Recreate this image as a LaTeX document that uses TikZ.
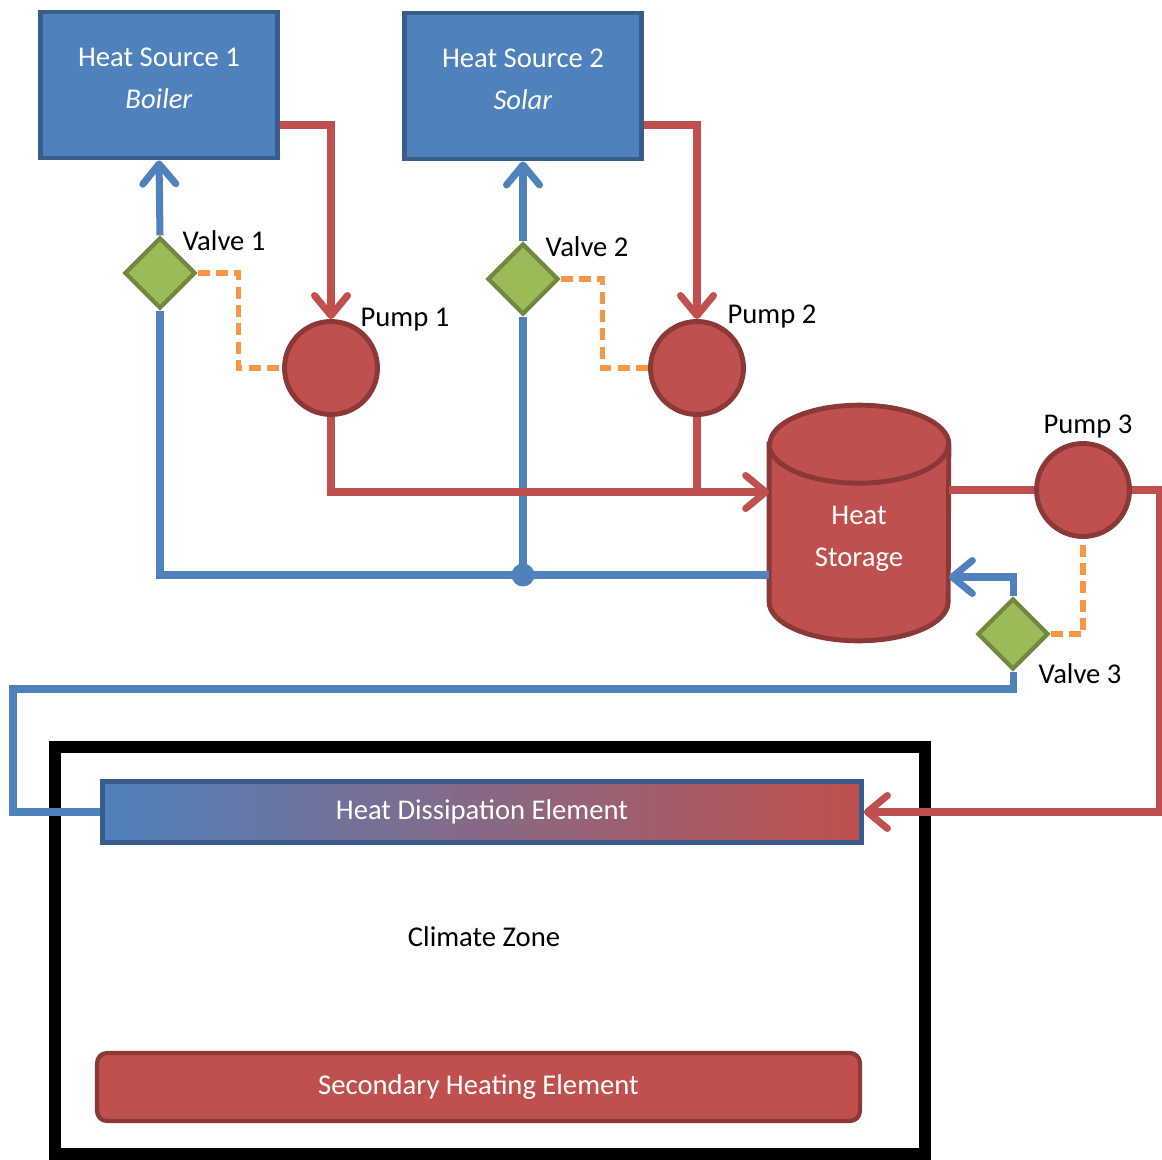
\documentclass[tikz,border=0pt]{standalone}
\usepackage{fontspec}
\setmainfont{Carlito}
\usepackage{xcolor}
\usetikzlibrary{arrows.meta, positioning, shapes.geometric}
\definecolor{srcblue}{HTML}{4F81BD}
\definecolor{srcedge}{HTML}{385D8A}
\definecolor{pumpred}{HTML}{C0504D}
\definecolor{pumpedge}{HTML}{8C3836}
\definecolor{valvegreen}{HTML}{9BBB59}
\definecolor{valveedge}{HTML}{71893F}
\definecolor{ctrlorange}{HTML}{F79646}

\begin{document}
\begin{tikzpicture}[x=0.02cm, y=-0.02cm,
    >={Straight Barb[length=0.4cm, width=0.66cm, round]},
    font=\fontsize{16.3}{23.8}\selectfont,
    source/.style={draw=srcedge, fill=srcblue, line width=2.8pt,
        minimum width=4.74cm, minimum height=2.92cm, inner sep=0pt},
    srctext/.style={text=white, align=center, inner sep=0pt},
    pump/.style={circle, draw=pumpedge, fill=pumpred, line width=2.8pt, minimum size=1.86cm, inner sep=0pt},
    valve/.style={diamond, draw=valveedge, fill=valvegreen, line width=2.4pt,
        minimum width=1.42cm, minimum height=1.42cm, inner sep=0pt},
    tank/.style={draw=pumpedge, fill=pumpred, line width=2.8pt},
    redpipe/.style={draw=pumpred, line width=4pt},
    bluepipe/.style={draw=srcblue, line width=4pt},
    ctrl/.style={draw=ctrlorange, line width=3pt, dash pattern=on 6.8pt off 3.6pt},
    lbl/.style={text=black, inner sep=0pt}]

    % Canvas
    \clip (0,0) rectangle (1162,1159);

    % Climate zone
    \node[draw=black, line width=6.8pt, minimum width=17.4cm, minimum height=8.14cm, inner sep=0pt] (cz) at (490,950.5) {};
    \node[lbl] (czlbl) at (484,937) {Climate Zone};

    % Heat sources
    \node[source] (hs1) at (159,85) {};
    \node[srctext] (hs1txt) at (159,78) {Heat Source 1\\\textit{Boiler}};
    \node[source] (hs2) at (523,86) {};
    \node[srctext] (hs2txt) at (523,79) {Heat Source 2\\\textit{Solar}};

    % Pumps and valves
    \node[pump] (p1) at (331,368) {};
    \node[pump] (p2) at (697,368) {};
    \node[pump] (p3) at (1083,490) {};
    \node[valve] (v1) at (160,273) {};
    \node[valve] (v2) at (523,279) {};
    \node[valve] (v3) at (1013,634) {};

    \node[lbl] (v1lbl) at (224,241) {Valve 1};
    \node[lbl] (p1lbl) at (405,320) {Pump 1};
    \node[lbl] (v2lbl) at (587,247) {Valve 2};
    \node[lbl] (p2lbl) at (772,317) {Pump 2};
    \node[lbl] (p3lbl) at (1088,427) {Pump 3};
    \node[lbl] (v3lbl) at (1080,674) {Valve 3};

    % Heat storage
    \node[minimum width=3.58cm, minimum height=3.14cm, inner sep=0pt] (store) at (859,523) {};
    \filldraw[tank] (store.north west) -- (store.south west)
        arc[start angle=180, end angle=360, x radius=1.79cm, y radius=0.78cm]
        -- (store.north east)
        arc[start angle=0, end angle=180, x radius=1.79cm, y radius=0.78cm] -- cycle;
    \draw[tank] (store.north west) arc[start angle=180, end angle=360, x radius=1.79cm, y radius=0.78cm];
    \node[text=white, align=center] (storelbl) at (859,539) {Heat\\Storage};

    % Elements in the zone
    \node[draw=srcedge, line width=2.8pt, left color=srcblue, right color=pumpred, text=white,
        minimum width=15.18cm, minimum height=1.22cm, inner sep=0pt] (hde) at (482,812) {Heat Dissipation Element};
    \node[draw=pumpedge, fill=pumpred, line width=2.4pt, rounded corners=0.2cm, text=white,
        minimum width=15.26cm, minimum height=1.36cm, inner sep=0pt] (she) at (478.5,1087) {Secondary Heating Element};

    % Return (blue) pipes
    \coordinate (sout) at ([yshift=-1.04cm]store.west);
    \coordinate (lc) at (13,689);
    \draw[bluepipe] (sout) -| (v1.south);
    \draw[bluepipe, ->] (v1.north) -- (hs1.south);
    \draw[bluepipe] (v2.south) -- (v2.south |- sout) coordinate (jn);
    \draw[bluepipe, ->] (v2.north) -- (hs2.south);
    \fill[srcblue] (jn) circle[radius=0.23cm];
    \draw[bluepipe, ->] (v3.north) |- ([yshift=-1.08cm]store.east);
    \draw[bluepipe] (v3.south) |- (lc) |- (hde.west);

    % Supply (red) pipes
    \coordinate (sin) at ([yshift=0.62cm]store.west);
    \coordinate (rc) at (1159,490);
    \draw[redpipe, ->] ([yshift=-0.8cm]hs1.east) -| (p1.north);
    \draw[redpipe, ->] ([yshift=-0.78cm]hs2.east) -| (p2.north);
    \draw[redpipe, ->] (p1.south) |- (sin);
    \draw[redpipe] (p2.south) -- (p2.south |- sin);
    \draw[redpipe] (store.east |- p3.west) -- (p3.west);
    \draw[redpipe, ->] (p3.east) -- (rc) |- (hde.east);

    % Control lines
    \draw[ctrl] (v1.east) -- ++(41,0) |- (p1.west);
    \draw[ctrl] (v2.east) -- ++(42,0) |- (p2.west);
    \draw[ctrl] (v3.east) -| (p3.south);
\end{tikzpicture}
\end{document}
